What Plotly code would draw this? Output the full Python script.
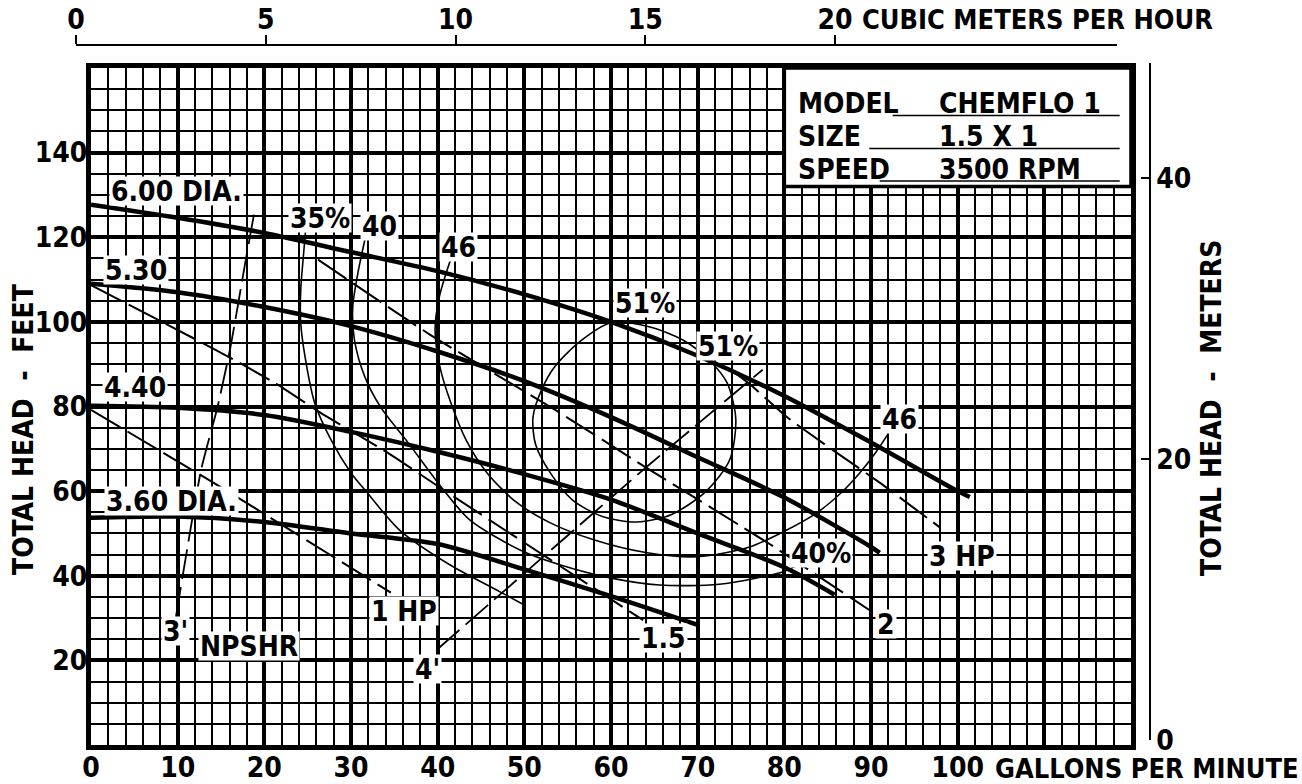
import plotly.graph_objects as go

# ---------------- data (GPM, feet) ----------------
dia600_q = [0, 10, 20, 30, 40, 50, 60, 70, 80, 90, 100, 101.4]
dia600_h = [127.7, 124.6, 121, 116.5, 112, 106.5, 100, 92, 82.5, 71.5, 60, 58.6]
dia530_q = [0, 10, 20, 30, 40, 50, 60, 70, 80, 90, 91]
dia530_h = [109, 107, 103.5, 99, 93, 86, 77.5, 68, 58.5, 46.8, 45.4]
dia440_q = [0, 10, 20, 30, 40, 50, 60, 70, 80, 85.8]
dia440_h = [80.2, 79.7, 78, 74, 69.3, 64, 58, 50, 42, 35.5]
dia360_q = [0, 10, 20, 30, 40, 50, 60, 70]
dia360_h = [53.7, 54, 52.7, 50, 47.5, 41.5, 35.2, 28.4]

eff35_q = [24.8, 24.5, 24.2, 24.2, 24.7, 25.8, 27.7, 30, 31.6, 35.6, 41.4, 47.2, 50]
eff35_h = [122.5, 115.4, 107.6, 99.8, 91.7, 80.9, 72.1, 64.3, 60.3, 50.8, 42.6, 36.2, 33.1]
eff40_q = [31.6, 30.8, 30.2, 30.4, 31.6, 33.4, 36.6, 40.4, 43.7, 49.5, 54.1, 59.9, 65.6, 72.5, 79.8, 81.5]
eff40_h = [119.4, 111.6, 103.5, 95.7, 87, 79.9, 71.4, 61, 53.2, 46.1, 42.6, 39.5, 37.8, 38, 40.9, 42.5]
eff46_q = [41.6, 40.2, 39.7, 40.3, 41.5, 43.3, 45.7, 49, 53, 58, 64, 70, 76, 80, 83.7, 86.5, 88.7, 90.5, 91.9]
eff46_h = [115.4, 106, 98, 89, 81, 72, 64.3, 57.5, 52.5, 48.5, 45.5, 44.5, 46.8, 50.5, 54.8, 59.5, 64.3, 69, 73.3]
eff51_q = [60, 64.5, 68.3, 71.3, 73.4, 74.4, 73.7, 71, 67, 63, 59, 55.5, 53, 51.3, 51, 52, 53.5, 56.5, 60]
eff51_h = [99.8, 98.8, 95.7, 91, 85.6, 77, 67.4, 60, 54.5, 52.7, 54, 58, 64.3, 71, 77.5, 84, 89.4, 95.5, 99.8]

npsh3_q = [9.8, 12.7, 14.6, 16.1, 17.8, 18.9]
npsh3_h = [30.3, 65, 79.9, 94.1, 114, 126.5]
npsh4_q = [39.9, 64.1, 77.5]
npsh4_h = [22.5, 65.7, 88.7]

hp1_q = [0, 15.5, 34.6]
hp1_h = [79.2, 60.3, 36]
hp15_q = [0, 15, 21.2, 26.5, 34.3, 40.3, 63.7]
hp15_h = [108.7, 92.7, 85.6, 78.5, 69, 60.8, 29.5]
hp2_q = [26.2, 39.1, 53.7, 64.1, 78.3, 89.8]
hp2_h = [114.7, 97, 79, 65.5, 47.5, 31.9]
hp3_q = [74, 76, 80.3, 85.6, 91, 97.9]
hp3_h = [88.4, 85.3, 77.5, 69.7, 62, 51.5]

gpm_ticks = list(range(0, 121, 10))
gpm_labels = [str(v) for v in range(0, 101, 10)] + ["", ""]
ft_ticks = list(range(0, 161, 20))
ft_labels = [""] + [str(v) for v in range(20, 141, 20)] + [""]
m3h_ticks = [0, 5, 10, 15, 20]
m_ticks = [0, 20, 40]

FONT = "DejaVu Sans Condensed, Liberation Sans, sans-serif"

fig = go.Figure()


def curve(q, h, width, dash="solid", smooth=0.8):
    fig.add_trace(go.Scatter(
        x=q, y=h, mode="lines", hoverinfo="skip", showlegend=False,
        line=dict(color="black", width=width, dash=dash, shape="spline", smoothing=smooth)))


for q, h in [(dia600_q, dia600_h), (dia530_q, dia530_h), (dia440_q, dia440_h), (dia360_q, dia360_h)]:
    curve(q, h, 4.5)
for q, h in [(eff35_q, eff35_h), (eff40_q, eff40_h), (eff46_q, eff46_h), (eff51_q, eff51_h)]:
    curve(q, h, 1.6)
for q, h in [(hp1_q, hp1_h), (hp15_q, hp15_h), (hp2_q, hp2_h), (hp3_q, hp3_h)]:
    curve(q, h, 2, dash="34px,8px", smooth=0.5)
for q, h in [(npsh3_q, npsh3_h), (npsh4_q, npsh4_h)]:
    curve(q, h, 1.8, dash="30px,8px", smooth=0.5)

# helper traces so that the minor-grid overlay axes and the secondary scales exist
fig.add_trace(go.Scatter(x=[None], y=[None], xaxis="x3", yaxis="y", showlegend=False, hoverinfo="skip"))
fig.add_trace(go.Scatter(x=[None], y=[None], xaxis="x", yaxis="y3", showlegend=False, hoverinfo="skip"))
fig.add_trace(go.Scatter(x=[None], y=[None], xaxis="x2", yaxis="y2", showlegend=False, hoverinfo="skip"))

W = 1074.0
H = 700.0

labels = [
    ("6.00 DIA.", 9.9, 131.0), ("5.30", 5.2, 112.2), ("4.40", 5.1, 84.6), ("3.60 DIA.", 9.3, 57.6),
    ("35%", 26.4, 124.6), ("40", 33.3, 122.7), ("46", 42.4, 117.7), ("51%", 63.9, 104.5),
    ("51%", 73.5, 94.3), ("46", 93.3, 77.1), ("40%", 84.2, 45.4), ("3 HP", 100.5, 44.7),
    ("2", 91.7, 28.6), ("1.5", 66.0, 25.3), ("1 HP", 36.1, 31.7), ("3'", 9.8, 27.0),
    ("NPSHR", 18.2, 23.4), ("4'", 38.8, 18.0),
]
annotations = []
for t, x, y in labels:
    annotations.append(dict(text=t, x=x, y=y, xref="x", yref="y", showarrow=False,
                            bgcolor="white", borderpad=1, height=26,
                            font=dict(family=FONT, size=28, color="black", weight="bold")))

for t, y in [("MODEL", 151.5), ("SIZE", 143.9), ("SPEED", 136.1)]:
    annotations.append(dict(text=t, x=81.3, y=y, xref="x", yref="y", xanchor="left", yanchor="middle",
                            showarrow=False, font=dict(family=FONT, size=28, color="black", weight="bold")))
for t, y in [("CHEMFLO 1", 151.5), ("1.5 X 1", 143.9), ("3500 RPM", 136.1)]:
    annotations.append(dict(text=t, x=97.6, y=y, xref="x", yref="y", xanchor="left", yanchor="middle",
                            showarrow=False, font=dict(family=FONT, size=28, color="black", weight="bold")))

annotations += [
    dict(text="TOTAL HEAD  -  FEET", x=(23 - 76) / W, y=(745 - 429) / H, xref="paper", yref="paper",
         xanchor="center", yanchor="middle", textangle=-90, showarrow=False,
         font=dict(family=FONT, size=28, color="black", weight="bold")),
    dict(text="TOTAL HEAD  -  METERS", x=(1211 - 76) / W, y=(745 - 408) / H, xref="paper", yref="paper",
         xanchor="center", yanchor="middle", textangle=-90, showarrow=False,
         font=dict(family=FONT, size=28, color="black", weight="bold")),
    dict(text="GALLONS PER MINUTE", x=(993 - 76) / W, y=(745 - 768) / H, xref="paper", yref="paper",
         xanchor="left", yanchor="middle", showarrow=False,
         font=dict(family=FONT, size=27, color="black", weight="bold")),
    dict(text="CUBIC METERS PER HOUR", x=(860 - 76) / W, y=(745 - 20) / H, xref="paper", yref="paper",
         xanchor="left", yanchor="middle", showarrow=False,
         font=dict(family=FONT, size=27, color="black", weight="bold")),
]

shapes = [
    dict(type="rect", xref="x", yref="y", x0=80, x1=120, y0=132, y1=160, fillcolor="white",
         line=dict(color="black", width=3.5), layer="above"),
    dict(type="line", xref="x", yref="y", x0=92.5, x1=118.7, y0=148.8, y1=148.8, line=dict(color="black", width=1.5)),
    dict(type="line", xref="x", yref="y", x0=89.8, x1=118.7, y0=141.0, y1=141.0, line=dict(color="black", width=1.5)),
    dict(type="line", xref="x", yref="y", x0=91.0, x1=118.7, y0=133.3, y1=133.3, line=dict(color="black", width=1.5)),
]

tickfont = dict(family=FONT, size=28, color="black", weight="bold")
XDOM = [15 / W, 1055 / W]
YDOM = [0, 677 / H]

fig.update_layout(
    width=1302, height=784,
    margin=dict(l=76, r=152, t=45, b=39, autoexpand=False),
    paper_bgcolor="white", plot_bgcolor="rgba(0,0,0,0)",
    showlegend=False,
    xaxis=dict(domain=XDOM, range=[0, 120], anchor="y", tickmode="array", tickvals=gpm_ticks,
               ticktext=gpm_labels, showgrid=True, gridcolor="black", gridwidth=3.5,
               showline=True, linecolor="black", linewidth=5, mirror=True, zeroline=False,
               ticks="", tickfont=tickfont, automargin=False, ticklabelstandoff=-7),
    xaxis3=dict(overlaying="x", anchor="y", range=[0, 120], tickmode="linear", tick0=0, dtick=2,
                showgrid=True, gridcolor="black", gridwidth=1.8, showticklabels=False, ticks="",
                showline=False, zeroline=False, automargin=False),
    yaxis=dict(domain=YDOM, range=[0, 160], anchor="x", tickmode="array", tickvals=ft_ticks,
               ticktext=ft_labels, showgrid=True, gridcolor="black", gridwidth=3.5,
               showline=True, linecolor="black", linewidth=5, mirror=True, zeroline=False,
               ticks="", tickfont=tickfont, automargin=False, ticklabelstandoff=-7),
    yaxis3=dict(overlaying="y", anchor="x", range=[0, 160], tickmode="linear", tick0=0, dtick=5,
                showgrid=True, gridcolor="black", gridwidth=1.8, showticklabels=False, ticks="",
                showline=False, zeroline=False, automargin=False),
    xaxis2=dict(domain=[0, 1041 / W], range=[0, 1041 / 37.95], anchor="free", position=1, side="top",
                tickmode="array", tickvals=m3h_ticks, ticktext=["0", "5", "10", "15", "20"],
                showgrid=False, zeroline=False, showline=True, linecolor="black", linewidth=1.5,
                ticks="outside", ticklen=9, tickwidth=1.5, tickcolor="black", tickfont=tickfont,
                automargin=False, ticklabelstandoff=-5),
    yaxis2=dict(domain=[5 / H, 682 / H], range=[0, 677 / 14.05], anchor="free", position=1, side="right",
                tickmode="array", tickvals=m_ticks, ticktext=["0", "20", "40"],
                showgrid=False, zeroline=False, showline=True, linecolor="black", linewidth=1.5,
                ticks="inside", ticklen=8, tickwidth=1.5, tickcolor="black", tickfont=tickfont,
                automargin=False),
    annotations=annotations,
    shapes=shapes,
)

fig.write_html("out.html", config={"displayModeBar": False},
               post_script="document.body.style.margin='0px';")
